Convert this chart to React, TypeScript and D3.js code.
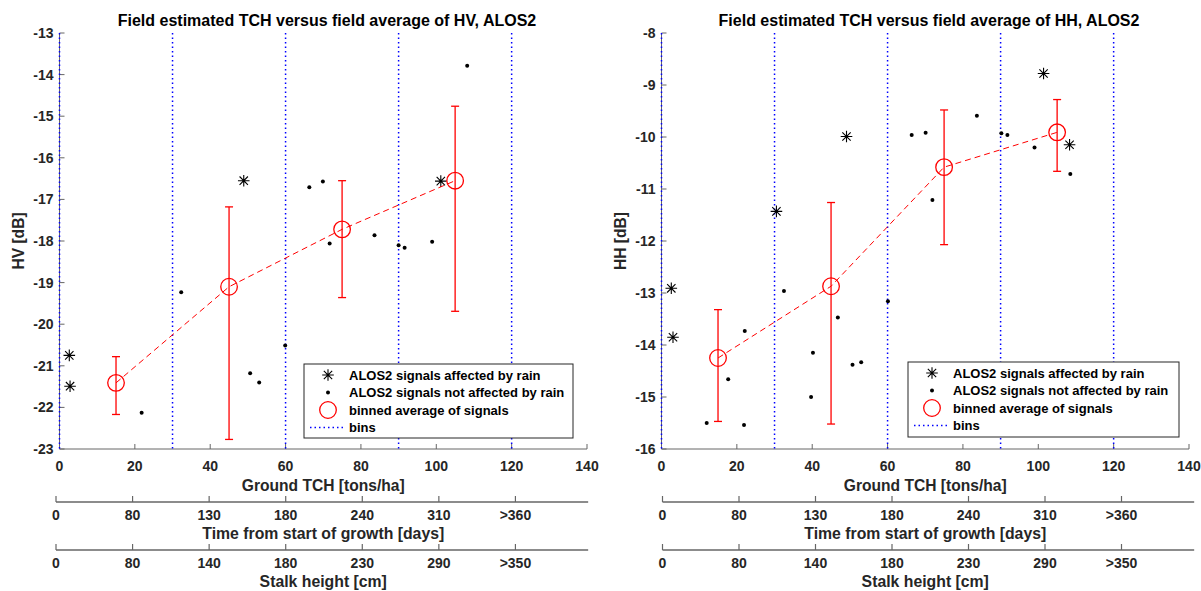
import React from 'react';
import * as d3 from 'd3';

// bins and x ticks shared by both panels
const binEdges = [0, 30, 60, 90, 120];
const binCenters = [15, 45, 75, 105];
const tchTicks = [0, 20, 40, 60, 80, 100, 120, 140];
const timeLabels = ['0', '80', '130', '180', '240', '310', '>360'];
const stalkLabels = ['0', '80', '140', '180', '230', '290', '>350'];

// HV panel
const hvRainX = [2.6, 2.8, 48.9, 101.2];
const hvRainY = [-20.75, -21.49, -16.55, -16.56];
const hvDotX = [21.8, 32.3, 50.6, 53.0, 59.9, 66.3, 69.9, 71.7, 83.6, 90.0, 91.6, 98.9, 108.2];
const hvDotY = [-22.13, -19.23, -21.18, -21.4, -20.51, -16.71, -16.57, -18.06, -17.86, -18.1, -18.16, -18.02, -13.79];
const hvMean = [-21.41, -19.1, -17.72, -16.55];
const hvUpper = [-20.78, -17.18, -16.55, -14.76];
const hvLower = [-22.17, -22.77, -19.36, -19.69];
const hvTicks = [-23, -22, -21, -20, -19, -18, -17, -16, -15, -14, -13];

// HH panel
const hhRainX = [2.6, 3.05, 30.5, 49.1, 101.4, 108.3];
const hhRainY = [-12.91, -13.85, -11.43, -9.99, -8.78, -10.15];
const hhDotX = [12.0, 17.7, 21.9, 22.1, 32.5, 39.7, 40.2, 46.8, 50.7, 53.0, 60.1, 66.4, 70.1, 71.9, 83.7, 90.2, 91.8, 99.0, 108.5];
const hhDotY = [-15.5, -14.66, -15.54, -13.73, -12.96, -15.0, -14.15, -13.47, -14.38, -14.33, -13.16, -9.96, -9.92, -11.21, -9.59, -9.93, -9.96, -10.2, -10.71];
const hhMean = [-14.25, -12.87, -10.58, -9.91];
const hhUpper = [-13.32, -11.26, -9.48, -9.28];
const hhLower = [-15.47, -15.52, -12.07, -10.66];
const hhTicks = [-16, -15, -14, -13, -12, -11, -10, -9, -8];

const legendLabels = [
  'ALOS2 signals affected by rain',
  'ALOS2 signals not affected by rain',
  'binned average of signals',
  'bins',
];

const FONT = '"Liberation Sans", Arial, Helvetica, sans-serif';
const TXT = '#262626';
const AX = '#666';
const BLUE = '#0000ff';

const starPath = (s: number) => {
  const d = s * 0.72;
  return `M${-s},0H${s}M0,${-s}V${s}M${-d},${-d}L${d},${d}M${-d},${d}L${d},${-d}`;
};

const Panel = ({ cfg }) => {
  const x = d3.scaleLinear().domain([0, 140]).range(cfg.xRange);
  const y = d3.scaleLinear().domain(cfg.yDomain).range([449, 33]);
  const sec = d3.scaleLinear().domain([0, 7]).range(cfg.secRange);
  const x0 = cfg.xRange[0];
  const x1 = cfg.xRange[1];
  const cx = (x0 + x1) / 2;

  const meanLine = d3.line<number>()
    .x((_, i) => x(binCenters[i]))
    .y(d => y(d));

  const [lx0, ly0, lx1, ly1] = cfg.legendBox;
  const rowY = [ly0 + 11, ly0 + 28.5, ly0 + 46, ly0 + 63.5];
  const mx = lx0 + 24;

  const secAxis = (yy: number, labels: string[], title: string) => (
    <g>
      <line x1={sec(0)} x2={sec(6.95)} y1={yy} y2={yy} stroke={AX} strokeWidth={1.6} />
      {labels.map((t, i) => (
        <g key={t}>
          <line x1={sec(i)} x2={sec(i)} y1={yy} y2={yy - 6} stroke={AX} strokeWidth={1.2} />
          <text x={sec(i)} y={yy + 13} dy="0.35em" textAnchor="middle" fontSize={14} fontWeight="bold" fill={TXT}>{t}</text>
        </g>
      ))}
      <text x={cx} y={yy + 31} dy="0.35em" textAnchor="middle" fontSize={15.8} fontWeight="bold" fill={TXT}>{title}</text>
    </g>
  );

  return (
    <g fontFamily={FONT}>
      <text x={cfg.titleX} y={20} dy="0.35em" textAnchor="middle" fontSize={16} fontWeight="bold" fill="#000">{cfg.title}</text>

      {/* axes */}
      <line x1={x0} x2={x1} y1={449} y2={449} stroke={AX} strokeWidth={1} />
      <line x1={x0} x2={x0} y1={449} y2={33} stroke={AX} strokeWidth={1} />
      {tchTicks.map(t => (
        <g key={t}>
          <line x1={x(t)} x2={x(t)} y1={449} y2={444} stroke={AX} />
          <text x={x(t)} y={466} dy="0.35em" textAnchor="middle" fontSize={14} fontWeight="bold" fill={TXT}>{t}</text>
        </g>
      ))}
      {cfg.yTicks.map(t => (
        <g key={t}>
          <line x1={x0} x2={x0 + 5} y1={y(t)} y2={y(t)} stroke={AX} />
          <text x={x0 - 6} y={y(t)} dy="0.35em" textAnchor="end" fontSize={14} fontWeight="bold" fill={TXT}>{t}</text>
        </g>
      ))}
      <text x={cx} y={486} dy="0.35em" textAnchor="middle" fontSize={15.6} fontWeight="bold" fill={TXT}>Ground TCH [tons/ha]</text>
      <text transform={`translate(${cfg.yLabelX},241) rotate(-90)`} dy="0.35em" textAnchor="middle" fontSize={15.6} fontWeight="bold" fill={TXT}>{cfg.yLabel}</text>

      {/* bins */}
      {binEdges.map(b => (
        <line key={b} x1={x(b)} x2={x(b)} y1={33} y2={449} stroke={BLUE} strokeWidth={1.5} strokeDasharray="1.5,3" />
      ))}

      {/* signals */}
      {cfg.dotX.map((v, i) => (
        <circle key={i} cx={x(v)} cy={y(cfg.dotY[i])} r={2} fill="#000" />
      ))}
      {cfg.rainX.map((v, i) => (
        <path key={i} transform={`translate(${x(v)},${y(cfg.rainY[i])})`} d={starPath(5.8)} stroke="#000" strokeWidth={1.1} fill="none" />
      ))}

      {/* binned averages */}
      <path d={meanLine(cfg.mean)} fill="none" stroke="#ff0000" strokeWidth={1} strokeDasharray="6,4" />
      {cfg.mean.map((m, i) => {
        const bx = x(binCenters[i]);
        return (
          <g key={i} stroke="#ff0000" fill="none" strokeWidth={1.3}>
            <line x1={bx} x2={bx} y1={y(cfg.upper[i])} y2={y(cfg.lower[i])} />
            <line x1={bx - 4} x2={bx + 4} y1={y(cfg.upper[i])} y2={y(cfg.upper[i])} />
            <line x1={bx - 4} x2={bx + 4} y1={y(cfg.lower[i])} y2={y(cfg.lower[i])} />
            <circle cx={bx} cy={y(m)} r={8.3} />
          </g>
        );
      })}

      {/* legend */}
      <rect x={lx0} y={ly0} width={lx1 - lx0} height={ly1 - ly0} fill="#fff" stroke="#262626" strokeWidth={1} />
      <path transform={`translate(${mx},${rowY[0]})`} d={starPath(5.8)} stroke="#000" strokeWidth={1.1} fill="none" />
      <circle cx={mx} cy={rowY[1]} r={2} fill="#000" />
      <circle cx={mx} cy={rowY[2]} r={8.3} fill="none" stroke="#ff0000" strokeWidth={1.3} />
      <line x1={lx0 + 6} x2={lx0 + 41} y1={rowY[3]} y2={rowY[3]} stroke={BLUE} strokeWidth={1.5} strokeDasharray="1.5,3" />
      {legendLabels.map((t, i) => (
        <text key={t} x={lx0 + 45} y={rowY[i]} dy="0.35em" fontSize={13} fontWeight="bold" fill="#000">{t}</text>
      ))}

      {secAxis(502, timeLabels, 'Time from start of growth [days]')}
      {secAxis(550, stalkLabels, 'Stalk height [cm]')}
    </g>
  );
};

const hvCfg = {
  title: 'Field estimated TCH versus field average of HV, ALOS2',
  titleX: 327,
  yLabel: 'HV [dB]',
  yLabelX: 18.5,
  xRange: [59.5, 587],
  yDomain: [-23, -13],
  yTicks: hvTicks,
  secRange: [56, 592],
  legendBox: [304, 364, 573, 438],
  rainX: hvRainX, rainY: hvRainY,
  dotX: hvDotX, dotY: hvDotY,
  mean: hvMean, upper: hvUpper, lower: hvLower,
};

const hhCfg = {
  title: 'Field estimated TCH versus field average of HH, ALOS2',
  titleX: 929,
  yLabel: 'HH [dB]',
  yLabelX: 621,
  xRange: [661.5, 1189],
  yDomain: [-16, -8],
  yTicks: hhTicks,
  secRange: [662.5, 1198],
  legendBox: [908, 362, 1179, 437],
  rainX: hhRainX, rainY: hhRainY,
  dotX: hhDotX, dotY: hhDotY,
  mean: hhMean, upper: hhUpper, lower: hhLower,
};

export default function App() {
  return (
    <svg width={1201} height={591} style={{ position: 'absolute', left: 0, top: 0, background: '#fff' }}>
      <rect width={1201} height={591} fill="#fff" />
      <Panel cfg={hvCfg} />
      <Panel cfg={hhCfg} />
    </svg>
  );
}
